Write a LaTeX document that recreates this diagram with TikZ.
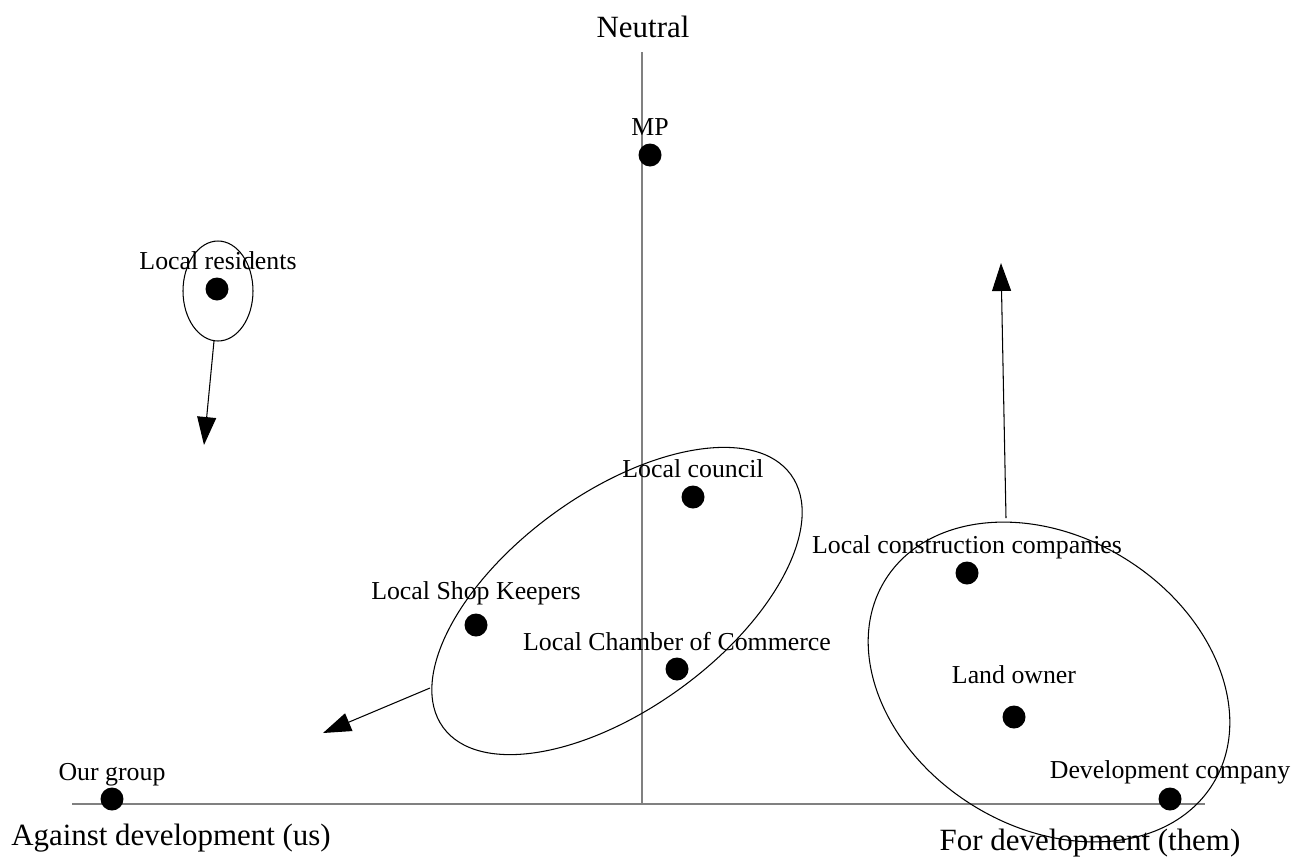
\documentclass[tikz,border=0pt]{standalone}
\usepackage{fontspec}
\setmainfont{Liberation Serif}
\usetikzlibrary{arrows.meta,shapes.geometric,positioning}

\tikzset{
  stake/.style={circle, fill=black, inner sep=0pt, minimum size=0.46cm},
  lbl/.style={anchor=base, inner sep=0pt, font=\fontsize{14.7}{16}\selectfont},
  axlbl/.style={anchor=base, inner sep=0pt, font=\fontsize{17.6}{20}\selectfont},
  grp/.style={draw, ellipse, inner sep=0pt, line width=0.6pt},
  movearrow/.style={-{Triangle[length=5.6mm,width=3.8mm]}, line width=0.6pt},
  axisline/.style={draw=gray, line width=0.9pt}
}

\begin{document}
\begin{tikzpicture}[x=0.02cm, y=-0.02cm]
      \useasboundingbox (0,0) rectangle (1305,856);
      % axes
      \coordinate (xleft) at (72,804);
      \coordinate (xright) at (1205,804);
      \coordinate (ytop) at (642,52);
      \coordinate (ybot) at (642,804);
      \draw[axisline] (xleft) -- (xright);
      \draw[axisline] (ytop) -- (ybot);
      \node[axlbl] at (643,37) (neutral) {Neutral};
      \node[axlbl] at (171,845) (against) {Against development (us)};
      \node[axlbl] at (1090,850) (for) {For development (them)};
      % groups
      \node[grp, minimum width=1.4cm, minimum height=2cm] at (218,291) (residents) {};
      \node[grp, minimum width=8.6cm, minimum height=4.32cm, rotate=36] at (617,601) (localgrp) {};
      \node[grp, minimum width=7.72cm, minimum height=5.8cm, rotate=-32] at (1049,682) (devgrp) {};
      % stakeholders
      \node[stake] at (112,799) (ourgroup) {};
      \node[stake] at (650,155) (mp) {};
      \node[stake] at (217,289) (res) {};
      \node[stake] at (693,497) (council) {};
      \node[stake] at (476,625) (shops) {};
      \node[stake] at (677,669) (chamber) {};
      \node[stake] at (967,573) (construct) {};
      \node[stake] at (1014,717) (landowner) {};
      \node[stake] at (1170,799) (devco) {};
      \node[lbl] at (112,780) (ourgroupl) {Our group};
      \node[lbl] at (650,135) (mpl) {MP};
      \node[lbl] at (218,269) (resl) {Local residents};
      \node[lbl] at (693,477) (councill) {Local council};
      \node[lbl] at (476,599) (shopsl) {Local Shop Keepers};
      \node[lbl] at (677,650) (chamberl) {Local Chamber of Commerce};
      \node[lbl] at (967,553) (constructl) {Local construction companies};
      \node[lbl] at (1014,683) (landownerl) {Land owner};
      \node[lbl] at (1170,778) (devcol) {Development company};
      % movement
      \coordinate (resfrom) at (214,341);
      \coordinate (resto) at (204,445);
      \coordinate (localfrom) at (430,688);
      \coordinate (localto) at (323,733);
      \coordinate (devfrom) at (1006,518);
      \coordinate (devto) at (1001,263);
      \draw[movearrow] (resfrom) -- (resto);
      \draw[movearrow] (localfrom) -- (localto);
      \draw[movearrow] (devfrom) -- (devto);
\end{tikzpicture}
\end{document}
